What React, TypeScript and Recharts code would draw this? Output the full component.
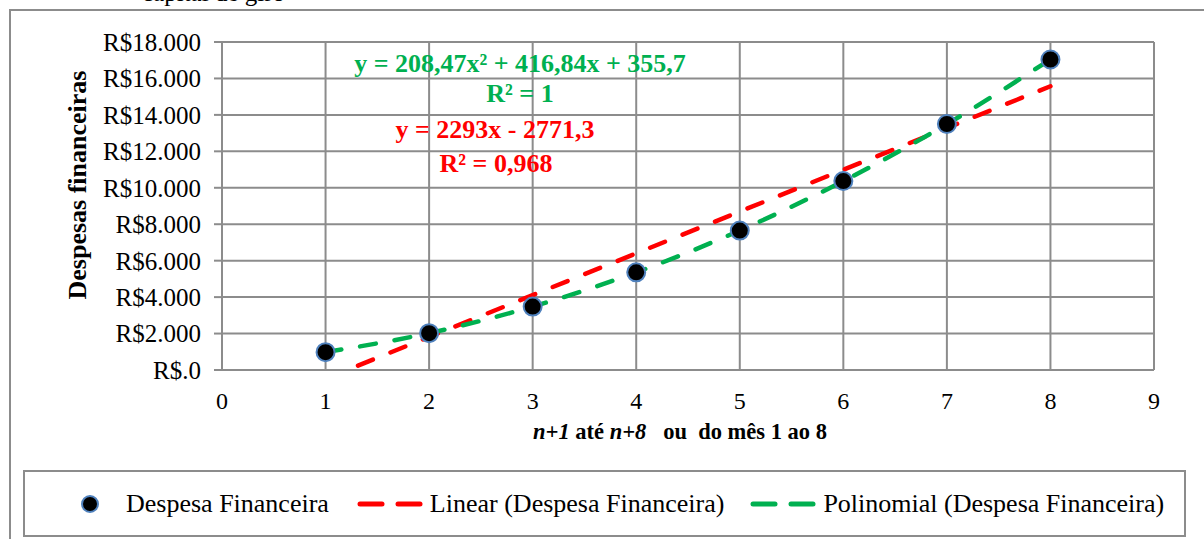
import React from 'react';
import {
  ComposedChart,
  Scatter,
  Line,
  XAxis,
  YAxis,
  CartesianGrid,
  Legend,
  Customized,
} from 'recharts';

// ---- Data ----
const months = [1, 2, 3, 4, 5, 6, 7, 8];
const despesa = [980, 2020, 3480, 5360, 7650, 10370, 13500, 17040];
const linearTrend = [-478, 1815, 4108, 6401, 8694, 10987, 13280, 15573];
const polyTrend = [981, 2023, 3482, 5359, 7654, 10366, 13495, 17043];
const xTicks = [0, 1, 2, 3, 4, 5, 6, 7, 8, 9];
const yTicks = [0, 2000, 4000, 6000, 8000, 10000, 12000, 14000, 16000, 18000];
const yTickLabels = [
  'R$.0',
  'R$2.000',
  'R$4.000',
  'R$6.000',
  'R$8.000',
  'R$10.000',
  'R$12.000',
  'R$14.000',
  'R$16.000',
  'R$18.000',
];
const seriesNames = [
  'Despesa Financeira',
  'Linear (Despesa Financeira)',
  'Polinomial (Despesa Financeira)',
];
const polyEquation = 'y = 208,47x² + 416,84x + 355,7';
const polyR2 = 'R² = 1';
const linEquation = 'y = 2293x - 2771,3';
const linR2 = 'R² = 0,968';
const yAxisTitle = 'Despesas financeiras';
const xAxisTitleParts = ['n+1', ' até ', 'n+8', '   ou  do mês 1 ao 8'];
const topText = 'capital de giro';

const tableData = months.map((m, i) => ({
  x: m,
  despesa: despesa[i],
  linear: linearTrend[i],
  poly: polyTrend[i],
}));

const FONT = "'Liberation Serif', 'Times New Roman', serif";
const GRID = '#8c8c8c';
const RED = '#ff0000';
const GREEN = '#00b050';
const DOT_STROKE = '#4f81bd';

const DotShape = (props: any) => {
  const { cx, cy } = props;
  if (cx == null || cy == null) return null;
  return <circle cx={cx} cy={cy} r={9} fill="#000" stroke={DOT_STROKE} strokeWidth={2} />;
};

const DashIcon = ({ color }: { color: string }) => (
  <svg width={66} height={20} style={{ display: 'block' }}>
    <line x1={3} y1={10} x2={25} y2={10} stroke={color} strokeWidth={5} strokeLinecap="round" />
    <line x1={41} y1={10} x2={63} y2={10} stroke={color} strokeWidth={5} strokeLinecap="round" />
  </svg>
);

const renderLegend = () => (
  <div
    style={{
      boxSizing: 'border-box',
      width: 1163,
      height: 67,
      border: `2px solid ${GRID}`,
      display: 'flex',
      alignItems: 'center',
      paddingLeft: 55,
      fontFamily: FONT,
      fontSize: 26,
      color: '#000',
      background: '#fff',
      whiteSpace: 'nowrap',
    }}
  >
    <div style={{ display: 'flex', alignItems: 'center', marginRight: 28 }}>
      <svg width={20} height={20} style={{ display: 'block', marginRight: 26 }}>
        <circle cx={10} cy={10} r={8} fill="#000" stroke={DOT_STROKE} strokeWidth={2} />
      </svg>
      <span style={{ fontFamily: FONT }}>{seriesNames[0]}</span>
    </div>
    <div style={{ display: 'flex', alignItems: 'center', marginRight: 26 }}>
      <div style={{ marginRight: 7 }}>
        <DashIcon color={RED} />
      </div>
      <span style={{ fontFamily: FONT }}>{seriesNames[1]}</span>
    </div>
    <div style={{ display: 'flex', alignItems: 'center' }}>
      <div style={{ marginRight: 7 }}>
        <DashIcon color={GREEN} />
      </div>
      <span style={{ fontFamily: FONT }}>{seriesNames[2]}</span>
    </div>
  </div>
);

const textStyle = { fontFamily: FONT, fontWeight: 700 } as const;

const Annotations = () => (
  <g>
    <text x={520} y={72} textAnchor="middle" fill={GREEN} fontSize={26} style={textStyle}>
      {polyEquation}
    </text>
    <text x={520} y={102} textAnchor="middle" fill={GREEN} fontSize={26} style={textStyle}>
      {polyR2}
    </text>
    <text x={495} y={138} textAnchor="middle" fill={RED} fontSize={26} style={textStyle}>
      {linEquation}
    </text>
    <text x={496} y={172} textAnchor="middle" fill={RED} fontSize={26} style={textStyle}>
      {linR2}
    </text>
    <text
      x={77}
      y={185}
      transform="rotate(-90 77 185)"
      textAnchor="middle"
      dominantBaseline="central"
      fontSize={26}
      fill="#000"
      style={textStyle}
    >
      {yAxisTitle}
    </text>
    <text
      x={680}
      y={439}
      textAnchor="middle"
      fontSize={22.5}
      fill="#000"
      style={{ ...textStyle, whiteSpace: 'pre' }}
    >
      <tspan style={{ fontFamily: FONT, fontStyle: 'italic' }}>{xAxisTitleParts[0]}</tspan>
      <tspan style={{ fontFamily: FONT }}>{xAxisTitleParts[1]}</tspan>
      <tspan style={{ fontFamily: FONT, fontStyle: 'italic' }}>{xAxisTitleParts[2]}</tspan>
      <tspan style={{ fontFamily: FONT }}>{xAxisTitleParts[3]}</tspan>
    </text>
  </g>
);

export default function App() {
  return (
    <div
      style={{
        position: 'fixed',
        left: 0,
        top: 0,
        width: 1204,
        height: 539,
        overflow: 'hidden',
        background: '#fff',
      }}
    >
      <div
        style={{
          position: 'absolute',
          left: 9,
          top: 9,
          width: 1400,
          height: 800,
          border: `2px solid ${GRID}`,
          boxSizing: 'border-box',
        }}
      />
      <div
        style={{
          position: 'absolute',
          left: 142,
          top: -21,
          fontFamily: FONT,
          fontSize: 25,
          lineHeight: '28px',
          color: '#000',
        }}
      >
        {topText}
      </div>
      <div style={{ position: 'absolute', left: 0, top: 0 }}>
        <ComposedChart
          width={1204}
          height={539}
          data={tableData}
          margin={{ top: 42, right: 50, bottom: 72, left: 122 }}
        >
          <CartesianGrid stroke={GRID} strokeWidth={2} horizontalValues={yTicks} verticalValues={xTicks} />
          <XAxis
            type="number"
            dataKey="x"
            domain={[0, 9]}
            ticks={xTicks}
            allowDataOverflow
            height={30}
            axisLine={{ stroke: GRID, strokeWidth: 2 }}
            tickLine={false}
            tickSize={0}
            tickMargin={22}
            tick={{ fill: '#000', fontFamily: FONT, fontSize: 24 }}
            interval={0}
          />
          <YAxis
            type="number"
            domain={[0, 18000]}
            ticks={yTicks}
            allowDataOverflow
            width={100}
            axisLine={{ stroke: GRID, strokeWidth: 2 }}
            tickLine={{ stroke: GRID, strokeWidth: 2 }}
            tickSize={8}
            tickMargin={13}
            interval={0}
            tick={{ fill: '#000', fontFamily: FONT, fontSize: 25 }}
            tickFormatter={(v: number) => yTickLabels[yTicks.indexOf(v)] ?? ''}
          />
          <Scatter
            name={seriesNames[0]}
            dataKey="despesa"
            fill="#000"
            shape={DotShape}
            isAnimationActive={false}
          />
          <Line
            name={seriesNames[1]}
            dataKey="linear"
            type="linear"
            stroke={RED}
            strokeWidth={4.5}
            strokeDasharray="16 19"
            strokeLinecap="round"
            dot={false}
            activeDot={false}
            isAnimationActive={false}
          />
          <Line
            name={seriesNames[2]}
            dataKey="poly"
            type="monotone"
            stroke={GREEN}
            strokeWidth={4.5}
            strokeDasharray="16 19"
            strokeLinecap="round"
            dot={false}
            activeDot={false}
            isAnimationActive={false}
          />
          <Legend
            verticalAlign="bottom"
            content={renderLegend}
            wrapperStyle={{ left: 23, top: 470, bottom: 'auto', width: 1163, height: 67 }}
          />
          <Customized component={Annotations} />
        </ComposedChart>
      </div>
    </div>
  );
}
